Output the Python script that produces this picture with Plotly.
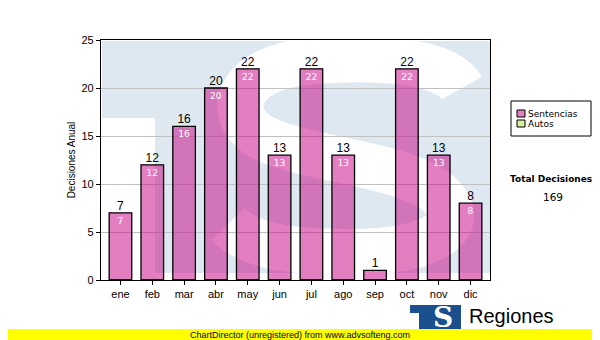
import plotly.graph_objects as go

# ---- data ----
months = ["ene", "feb", "mar", "abr", "may", "jun", "jul", "ago", "sep", "oct", "nov", "dic"]
sentencias = [7, 12, 16, 20, 22, 13, 22, 13, 1, 22, 13, 8]
autos = [0, 0, 0, 0, 0, 0, 0, 0, 0, 0, 0, 0]
series_names = ["Sentencias", "Autos"]
y_ticks = [0, 5, 10, 15, 20, 25]
total_label = "Total Decisiones"
total_value = sum(sentencias) + sum(autos)

PINK = "rgba(200,0,130,0.5)"
GREEN = "#d8eea0"

# ---- layout helpers: page pixel -> paper coords (page has 8px body margin) ----
OFF = 8
W, H = 600 - OFF, 340 - OFF
L, R, T, B = 101, 490, 40, 280   # plot area in page pixels


def px(x):
    return (x - L) / (R - L)


def py(y):
    return (B - y) / (B - T)


fig = go.Figure()

fig.add_trace(go.Bar(
    x=months, y=sentencias, name=series_names[0],
    marker=dict(color=PINK, line=dict(color="black", width=1.3)),
    text=[str(v) if v > 2 else "" for v in sentencias],
    textposition="inside", insidetextanchor="end",
    textfont=dict(color="white", size=9, family="DejaVu Sans"),
    textangle=0, hoverinfo="skip", showlegend=False,
))
fig.add_trace(go.Bar(
    x=months, y=autos, name=series_names[1],
    marker=dict(color=GREEN, line=dict(color="black", width=1.3)),
    hoverinfo="skip", showlegend=False,
))
fig.add_trace(go.Scatter(
    x=months, y=sentencias, mode="text",
    text=[str(v) for v in sentencias], textposition="top center",
    textfont=dict(color="black", size=12, family="Liberation Sans"),
    showlegend=False, hoverinfo="skip",
))

shapes = []
# watermark: light blue block (T + S logo)
LB = "#dde8f1"
shapes.append(dict(type="rect", xref="paper", yref="paper", layer="below",
                   x0=px(102), x1=px(490), y0=py(273), y1=py(41),
                   fillcolor=LB, line=dict(width=0)))
shapes.append(dict(type="rect", xref="paper", yref="paper", layer="below",
                   x0=px(101), x1=px(155), y0=py(280), y1=py(118),
                   fillcolor="white", line=dict(width=0)))
# white S stroke
pts = [(462, 88), (445, 58), (365, 56), (305, 62),
       (242, 68), (222, 110), (258, 135),
       (298, 160), (405, 162), (440, 195),
       (472, 226), (432, 252), (352, 252),
       (292, 252), (250, 247), (228, 224)]
p = "M{:.4f},{:.4f}".format(px(pts[0][0]), py(pts[0][1]))
for i in range(1, len(pts), 3):
    a, b, c = pts[i], pts[i + 1], pts[i + 2]
    p += " C{:.4f},{:.4f} {:.4f},{:.4f} {:.4f},{:.4f}".format(
        px(a[0]), py(a[1]), px(b[0]), py(b[1]), px(c[0]), py(c[1]))
shapes.append(dict(type="path", xref="paper", yref="paper", layer="below",
                   path=p, line=dict(color="white", width=46)))

# legend box (manual)
shapes.append(dict(type="rect", xref="paper", yref="paper",
                   x0=px(511), x1=px(591), y0=py(136), y1=py(101),
                   fillcolor="white", line=dict(color="black", width=1)))
shapes.append(dict(type="rect", xref="paper", yref="paper",
                   x0=px(517), x1=px(525), y0=py(117), y1=py(110),
                   fillcolor=PINK, line=dict(color="black", width=1)))
shapes.append(dict(type="rect", xref="paper", yref="paper",
                   x0=px(517), x1=px(525), y0=py(127), y1=py(120),
                   fillcolor=GREEN, line=dict(color="black", width=1)))

# logo at bottom
shapes.append(dict(type="rect", xref="paper", yref="paper",
                   x0=px(410), x1=px(461), y0=py(330), y1=py(305),
                   fillcolor="#1b4f8e", line=dict(width=0)))
shapes.append(dict(type="rect", xref="paper", yref="paper",
                   x0=px(410), x1=px(419), y0=py(330), y1=py(313),
                   fillcolor="white", line=dict(width=0)))
# yellow band
shapes.append(dict(type="rect", xref="paper", yref="paper",
                   x0=px(0), x1=px(600), y0=py(340), y1=py(329),
                   fillcolor="#ffff00", line=dict(width=0)))


def note(text, x, y, size, family="DejaVu Sans", xanchor="center", color="black"):
    return dict(text=text, x=px(x), y=py(y), xref="paper", yref="paper",
                xanchor=xanchor, yanchor="middle", showarrow=False,
                font=dict(size=size, family=family, color=color))


annotations = [
    note(series_names[0], 526, 113.5, 9, xanchor="left"),
    note(series_names[1], 526, 124, 9, xanchor="left"),
    note("<b>" + total_label + "</b>", 551, 178.5, 9),
    note(str(total_value), 553, 197, 10.5),
    note("ChartDirector (unregistered) from www.advsofteng.com", 300, 334.5, 9,
         family="Liberation Sans"),
    note("<b>S</b>", 443, 317, 28, family="DejaVu Serif", color="white"),
    note("Regiones", 467, 316, 20, family="Liberation Sans", xanchor="left"),
]

fig.update_layout(
    width=W, height=H,
    margin=dict(l=L - OFF, r=W - (R - OFF), t=T - OFF, b=H - (B - OFF), autoexpand=False),
    paper_bgcolor="white", plot_bgcolor="white",
    barmode="overlay", bargap=0.29,
    showlegend=False,
    shapes=shapes, annotations=annotations,
    font=dict(family="Liberation Sans", color="black"),
)
fig.update_xaxes(showline=True, linecolor="black", linewidth=1.3, mirror=True,
                 ticks="outside", ticklen=4, tickcolor="black",
                 tickfont=dict(size=11, family="Liberation Sans", color="black"),
                 showgrid=False)
fig.update_yaxes(range=[0, 25], tickvals=y_ticks, showline=True, linecolor="black",
                 linewidth=1.3, mirror=True, ticks="outside", ticklen=4, tickcolor="black",
                 tickfont=dict(size=11, family="Liberation Sans", color="black"),
                 showgrid=True, gridcolor="#c0c0c0", gridwidth=1, zeroline=False,
                 title=dict(text="Decisiones Anual", standoff=3,
                            font=dict(size=10, family="Liberation Sans", color="black")))

fig.write_html("out.html")
